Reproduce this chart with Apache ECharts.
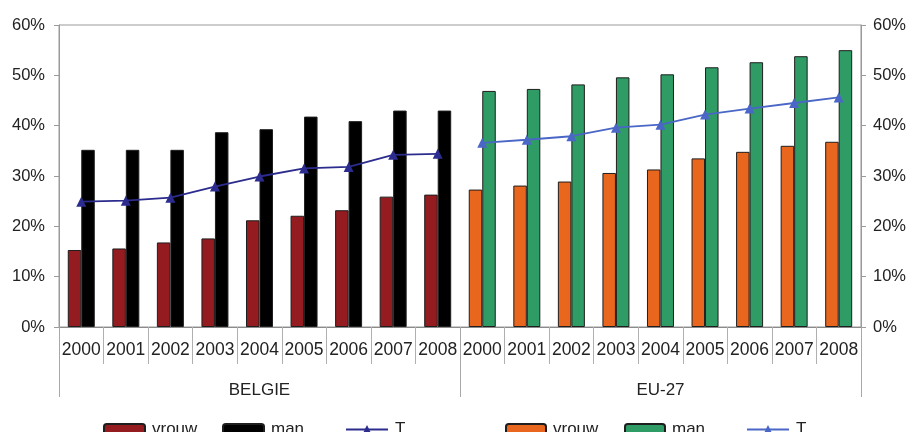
<!DOCTYPE html>
<html>
<head>
<meta charset="utf-8">
<script src="https://cdn.jsdelivr.net/npm/echarts@6/dist/echarts.min.js"></script>
<style>
  html, body { margin: 0; padding: 0; background: #fff; }
  #chart { width: 909px; height: 432px; }
</style>
</head>
<body>
<div id="chart"></div>
<script>
// Employment rates by sex, Belgium vs EU-27, 2000-2008 (percent)
const years = ['2000', '2001', '2002', '2003', '2004', '2005', '2006', '2007', '2008'];
const groups = ['BELGIE', 'EU-27'];
const yTicks = [0, 10, 20, 30, 40, 50, 60];

const beVrouw = [15.3, 15.6, 16.8, 17.6, 21.2, 22.1, 23.2, 25.9, 26.3];
const beMan   = [35.2, 35.2, 35.2, 38.7, 39.3, 41.8, 40.9, 43.0, 43.0];
const beT     = [24.9, 25.1, 25.7, 27.9, 29.9, 31.5, 31.8, 34.2, 34.4];

const euVrouw = [27.3, 28.1, 28.9, 30.6, 31.3, 33.5, 34.8, 36.0, 36.8];
const euMan   = [46.9, 47.3, 48.2, 49.6, 50.2, 51.6, 52.6, 53.8, 55.0];
const euT     = [36.6, 37.2, 37.9, 39.6, 40.2, 42.2, 43.4, 44.5, 45.6];

// Each group fills its own half of the shared category axis
const categories = years.concat(years);
const gap = years.map(() => '-');
const left = arr => arr.concat(gap);
const right = arr => gap.concat(arr);

const FONT = '"Liberation Sans", Arial, sans-serif';
const AXIS_GREY = '#9a9a9a';
const TEXT = '#222';

const barBorder = { borderColor: '#1e1e1e', borderWidth: 1 };

const legendBase = (name, x, w) => ({
  data: [name],
  left: x,
  top: 421,
  itemWidth: w,
  itemHeight: 11,
  padding: 0,
  formatter: n => n.split('|')[1],
  textStyle: { fontFamily: FONT, fontSize: 17, color: TEXT, padding: [0, 0, 0, 2] }
});

const option = {
  animation: false,
  backgroundColor: '#fff',
  grid: {
    left: 59, right: 46, top: 25, bottom: 105,
    show: true, borderColor: AXIS_GREY, borderWidth: 1, backgroundColor: 'transparent'
  },
  legend: [
    legendBase('BE|vrouw', 103, 41),
    legendBase('BE|man', 222, 41),
    legendBase('BE|T', 345, 42),
    legendBase('EU|vrouw', 505, 40),
    legendBase('EU|man', 624, 40),
    legendBase('EU|T', 746, 42)
  ],
  xAxis: [
    {
      type: 'category',
      data: categories,
      position: 'bottom',
      axisLine: { show: true, lineStyle: { color: '#8a8a8a', width: 1 } },
      axisTick: { show: true, interval: 0, length: 37, lineStyle: { color: '#b0b0b0' } },
      axisLabel: { interval: 0, margin: 14, fontFamily: FONT, fontSize: 17.5, color: TEXT }
    },
    {
      type: 'category',
      data: groups,
      position: 'bottom',
      axisLine: { show: false },
      axisTick: { show: true, interval: 0, length: 70, lineStyle: { color: '#a8a8a8' } },
      axisLabel: { interval: 0, margin: 55, fontFamily: FONT, fontSize: 17, color: TEXT }
    }
  ],
  yAxis: [
    {
      type: 'value', position: 'left', min: yTicks[0], max: yTicks[yTicks.length - 1], interval: 10,
      axisLine: { show: true, lineStyle: { color: AXIS_GREY } },
      axisTick: { show: true, length: 5, lineStyle: { color: AXIS_GREY } },
      splitLine: { show: false },
      axisLabel: { margin: 14, formatter: '{value}%', fontFamily: FONT, fontSize: 16.5, color: TEXT }
    },
    {
      type: 'value', position: 'right', min: yTicks[0], max: yTicks[yTicks.length - 1], interval: 10,
      axisLine: { show: true, lineStyle: { color: AXIS_GREY } },
      axisTick: { show: true, length: 5, lineStyle: { color: AXIS_GREY } },
      splitLine: { show: false },
      axisLabel: { margin: 12, formatter: '{value}%', fontFamily: FONT, fontSize: 16.5, color: TEXT }
    }
  ],
  series: [
    {
      name: 'BE|vrouw', type: 'bar', stack: 'vrouw', barWidth: 13.5, barGap: '0%',
      data: left(beVrouw), itemStyle: Object.assign({ color: '#941b1f' }, barBorder)
    },
    {
      name: 'BE|man', type: 'bar', stack: 'man', barWidth: 13.5, barGap: '0%',
      data: left(beMan), itemStyle: Object.assign({ color: '#000000' }, barBorder)
    },
    {
      name: 'EU|vrouw', type: 'bar', stack: 'vrouw', barWidth: 13.5, barGap: '0%',
      data: right(euVrouw), itemStyle: Object.assign({ color: '#e8661d' }, barBorder)
    },
    {
      name: 'EU|man', type: 'bar', stack: 'man', barWidth: 13.5, barGap: '0%',
      data: right(euMan), itemStyle: Object.assign({ color: '#2f9c65' }, barBorder)
    },
    {
      name: 'BE|T', type: 'line', data: left(beT), z: 5,
      symbol: 'triangle', symbolSize: 10, connectNulls: false,
      lineStyle: { color: '#2c2c8e', width: 1.8 },
      itemStyle: { color: '#2c2c8e' }
    },
    {
      name: 'EU|T', type: 'line', data: right(euT), z: 5,
      symbol: 'triangle', symbolSize: 10, connectNulls: false,
      lineStyle: { color: '#4a66c6', width: 1.8 },
      itemStyle: { color: '#4a66c6' }
    }
  ]
};

const chart = echarts.init(document.getElementById('chart'), null, { renderer: 'canvas' });
chart.setOption(option);
</script>
</body>
</html>
